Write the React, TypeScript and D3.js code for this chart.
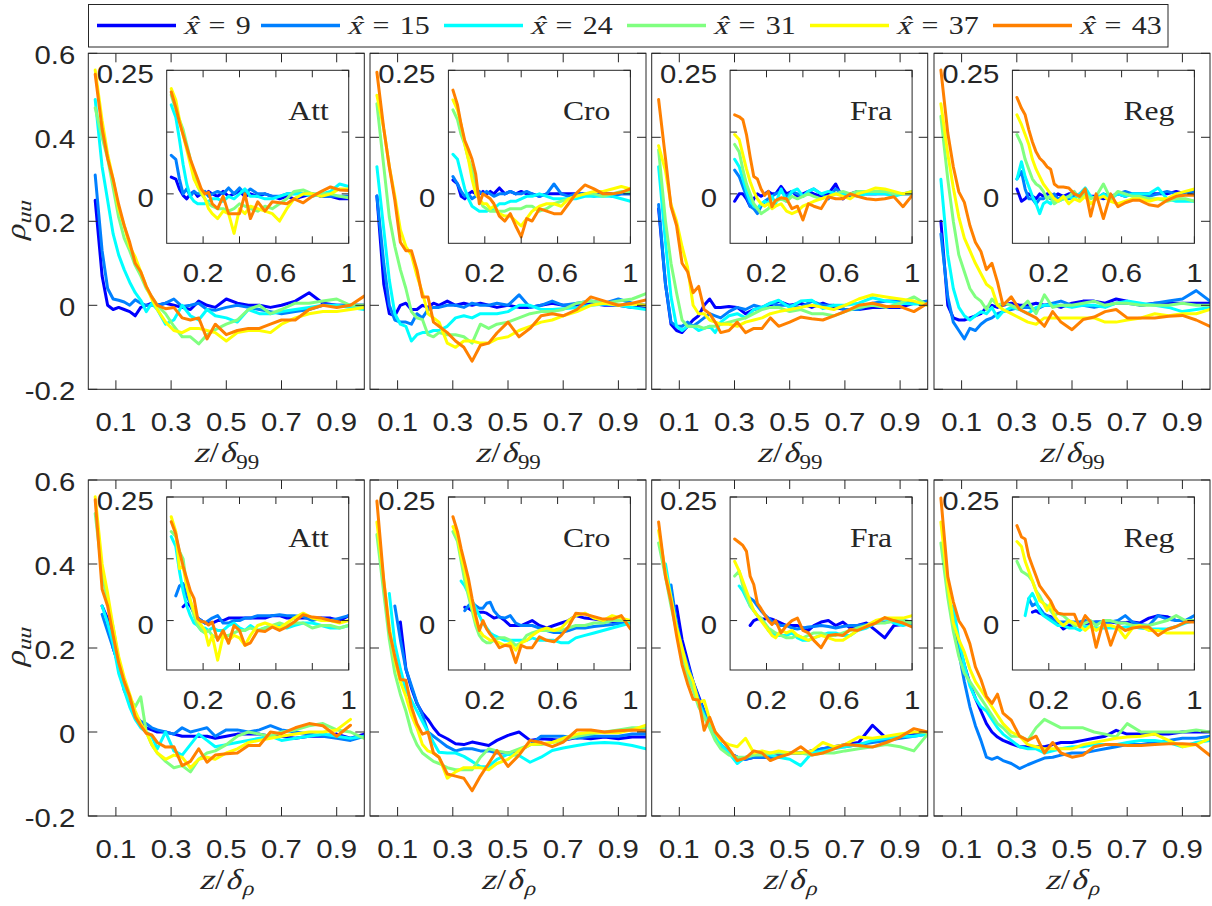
import React from "react";
import * as d3 from "d3";

// Wall-normal sampling positions (z/delta) shared by every profile
const zGrid = [0.025, 0.05, 0.07, 0.09, 0.11, 0.13, 0.15, 0.17, 0.19, 0.21, 0.23, 0.25, 0.28, 0.31, 0.34, 0.37, 0.4, 0.43, 0.46, 0.5, 0.54, 0.58, 0.62, 0.66, 0.7, 0.75, 0.8, 0.85, 0.9, 0.95, 1.0];

const stationLabels = ["9", "15", "24", "31", "37", "43"];
const seriesColors = ["#0000ff", "#0080ff", "#00ffff", "#80ff80", "#ffff00", "#ff8000"];
const caseNames = ["Att", "Cro", "Fra", "Reg"];

const mainXTicks = [0.1, 0.3, 0.5, 0.7, 0.9];
const mainXTickLabels = ["0.1", "0.3", "0.5", "0.7", "0.9"];
const mainYTicks = [-0.2, 0, 0.2, 0.4, 0.6];
const mainYTickLabels = ["-0.2", "0", "0.2", "0.4", "0.6"];
const insetXTicks = [0.2, 0.4, 0.6, 0.8, 1.0];
const insetXTickLabels = ["0.2", "", "0.6", "", "1"];
const insetYTicks = [0, 0.125, 0.25];
const insetYTickLabels = ["0", "", "0.25"];

// ---- rho_uu against z/delta_99 (series order: x̂ = 9, 15, 24, 31, 37, 43) ----
const attD99 = [
  [0.25, 0.07, 0.0, -0.01, -0.005, -0.01, -0.015, -0.025, -0.005, 0.0, 0.005, 0.0, 0.005, 0.0, -0.005, -0.01, 0.01, 0.0, -0.005, 0.015, 0.005, 0.0, 0.0, -0.005, 0.0, 0.01, 0.03, 0.005, 0.0, 0.0, 0.0],
  [0.31, 0.13, 0.04, 0.015, 0.012, 0.008, 0.0, 0.013, 0.005, 0.0, 0.0, 0.0, 0.005, 0.015, -0.003, 0.0, 0.005, -0.01, -0.012, -0.005, 0.0, -0.005, -0.01, -0.015, -0.02, -0.015, -0.01, 0.0, 0.0, 0.0, 0.0],
  [0.49, 0.33, 0.25, 0.17, 0.12, 0.085, 0.055, 0.03, 0.012, -0.015, 0.005, -0.01, -0.045, -0.035, 0.0, -0.025, -0.035, -0.01, -0.025, -0.03, -0.04, -0.01, -0.02, -0.02, -0.015, -0.01, -0.005, 0.0, 0.0, -0.005, -0.01],
  [0.47, 0.4, 0.35, 0.28, 0.21, 0.16, 0.13, 0.095, 0.07, 0.04, 0.02, 0.0, -0.02, -0.05, -0.075, -0.075, -0.092, -0.07, -0.058, -0.045, -0.035, -0.01, 0.0, -0.02, -0.01, 0.005, 0.005, 0.01, 0.015, 0.0, 0.0],
  [0.56, 0.44, 0.36, 0.3, 0.23, 0.19, 0.14, 0.115, 0.08, 0.045, 0.015, -0.01, -0.04, -0.06, -0.065, -0.055, -0.055, -0.06, -0.065, -0.085, -0.065, -0.06, -0.06, -0.065, -0.045, -0.03, -0.02, -0.015, -0.015, -0.01, -0.005],
  [0.55, 0.42, 0.35, 0.3, 0.24, 0.19, 0.15, 0.1, 0.08, 0.045, 0.02, 0.0, -0.008, -0.005, -0.03, -0.035, -0.03, -0.08, -0.045, -0.07, -0.06, -0.055, -0.055, -0.045, -0.035, -0.035, -0.01, 0.0, -0.005, 0.0, 0.022],
];
const croD99 = [
  [0.26, 0.05, -0.02, -0.025, 0.0, 0.005, -0.01, -0.01, 0.0, -0.005, 0.005, 0.0, 0.01, 0.0, 0.005, 0.0, 0.005, 0.0, -0.005, 0.0, -0.005, -0.005, 0.0, 0.005, 0.0, 0.0, 0.005, 0.0, 0.0, -0.005, -0.005],
  [0.26, 0.1, 0.0, -0.035, -0.04, -0.04, -0.045, -0.02, -0.03, -0.01, -0.005, -0.005, 0.0, 0.0, -0.005, 0.005, 0.0, 0.0, 0.005, 0.0, 0.025, -0.005, 0.0, 0.01, 0.0, 0.005, 0.01, 0.005, 0.015, 0.005, 0.0],
  [0.33, 0.18, 0.06, -0.02, -0.045, -0.05, -0.085, -0.07, -0.065, -0.065, -0.06, -0.06, -0.05, -0.03, -0.025, -0.03, -0.02, -0.02, -0.02, -0.015, 0.0, 0.0, -0.01, -0.01, -0.008, -0.005, 0.0, 0.003, 0.0, -0.005, -0.01],
  [0.48, 0.33, 0.21, 0.14, 0.085, 0.04, -0.015, -0.03, -0.034, -0.07, -0.075, -0.065, -0.07, -0.07, -0.075, -0.09, -0.045, -0.055, -0.045, -0.04, -0.03, -0.02, -0.015, -0.015, -0.01, 0.005, 0.01, 0.005, 0.01, 0.015, 0.028],
  [0.5, 0.42, 0.33, 0.26, 0.18, 0.14, 0.12, 0.07, 0.03, -0.02, -0.03, -0.04, -0.09, -0.1, -0.085, -0.085, -0.09, -0.09, -0.08, -0.075, -0.06, -0.05, -0.04, -0.035, -0.025, -0.015, 0.0, 0.005, 0.0, 0.003, 0.0],
  [0.555, 0.42, 0.33, 0.25, 0.15, 0.13, 0.13, 0.085, 0.02, 0.02, -0.04, -0.05, -0.065, -0.085, -0.1, -0.133, -0.095, -0.09, -0.066, -0.04, -0.075, -0.055, -0.025, -0.02, -0.025, -0.01, 0.02, 0.01, 0.0, 0.005, 0.013],
];
const fraD99 = [
  [0.23, 0.05, -0.045, -0.06, -0.065, -0.05, -0.035, -0.025, 0.0, 0.015, -0.005, -0.005, -0.003, -0.005, -0.02, -0.01, -0.005, 0.0, 0.01, 0.0, 0.005, -0.005, 0.005, -0.005, -0.01, -0.01, -0.005, -0.005, -0.005, 0.005, 0.005],
  [0.24, 0.05, -0.04, -0.05, -0.05, -0.04, -0.05, -0.04, -0.03, -0.02, -0.025, -0.03, -0.015, -0.005, -0.01, 0.0, -0.005, 0.005, 0.0, 0.0, -0.005, 0.01, 0.0, 0.0, -0.01, -0.01, 0.005, 0.01, 0.01, 0.005, 0.01],
  [0.33, 0.15, 0.02, -0.05, -0.06, -0.05, -0.05, -0.06, -0.055, -0.05, -0.065, -0.04, -0.025, -0.02, -0.03, -0.01, -0.005, 0.005, 0.012, -0.005, 0.01, 0.012, -0.008, 0.0, 0.0, 0.005, 0.018, 0.01, 0.005, 0.003, 0.003],
  [0.37, 0.2, 0.1, 0.03, -0.035, -0.05, -0.05, -0.05, -0.055, -0.05, -0.05, -0.045, -0.04, -0.035, -0.03, -0.02, -0.01, -0.005, -0.005, -0.015, -0.01, -0.02, -0.02, -0.025, -0.015, -0.005, 0.0, -0.005, 0.005, 0.02, 0.0],
  [0.38, 0.32, 0.24, 0.2, 0.14, 0.09, 0.0, -0.02, -0.02, -0.035, -0.04, -0.045, -0.045, -0.05, -0.04, -0.035, -0.03, -0.02, -0.015, -0.01, -0.005, 0.0, -0.005, -0.01, 0.0, 0.015, 0.025, 0.02, 0.015, 0.01, 0.0],
  [0.49, 0.35, 0.235, 0.19, 0.1, 0.08, 0.03, 0.045, -0.01, -0.02, -0.04, -0.065, -0.06, -0.04, -0.065, -0.055, -0.055, -0.03, -0.05, -0.04, -0.028, -0.032, -0.035, -0.025, -0.015, 0.0, 0.005, -0.003, -0.003, -0.015, 0.005],
];
const regD99 = [
  [0.2, 0.0, -0.03, -0.035, -0.035, -0.03, -0.025, -0.02, -0.005, 0.0, -0.005, 0.0, 0.005, 0.0, 0.0, 0.005, 0.0, 0.0, -0.005, 0.005, 0.01, 0.01, 0.005, 0.015, 0.01, 0.0, 0.005, 0.005, 0.005, 0.005, 0.005],
  [0.17, 0.02, -0.04, -0.06, -0.08, -0.055, -0.06, -0.045, -0.035, -0.03, -0.02, -0.015, -0.01, -0.005, -0.005, -0.01, 0.0, 0.005, 0.01, 0.0, 0.0, -0.005, 0.0, 0.005, 0.005, 0.0, 0.005, 0.01, 0.015, 0.035, 0.01],
  [0.3, 0.12, 0.04, -0.005, -0.025, -0.035, -0.025, -0.015, -0.02, -0.005, -0.03, -0.015, -0.005, -0.01, -0.02, -0.005, 0.0, 0.0, 0.0, -0.005, 0.0, 0.0, -0.005, 0.005, 0.01, 0.005, 0.0, -0.005, -0.015, -0.01, -0.005],
  [0.45, 0.3, 0.2, 0.12, 0.08, 0.04, 0.02, 0.01, -0.01, 0.015, 0.0, 0.005, 0.0, -0.01, 0.01, -0.02, 0.025, -0.005, 0.0, 0.0, 0.005, 0.01, 0.0, 0.005, 0.005, 0.0, 0.0, 0.0, 0.005, 0.0, 0.0],
  [0.48, 0.36, 0.28, 0.21, 0.16, 0.13, 0.1, 0.075, 0.05, 0.04, 0.0, -0.01, -0.02, -0.03, -0.04, -0.045, -0.03, -0.03, -0.03, -0.03, -0.03, -0.03, -0.04, -0.04, -0.035, -0.03, -0.02, -0.025, -0.02, -0.02, -0.01],
  [0.56, 0.41, 0.33, 0.27, 0.245, 0.19, 0.15, 0.128, 0.085, 0.1, 0.055, 0.0, 0.02, -0.01, -0.02, -0.03, -0.05, -0.015, -0.04, -0.058, -0.034, -0.028, -0.015, -0.01, -0.03, -0.03, -0.03, -0.026, -0.024, -0.035, -0.05],
];

// ---- inset profiles, z/delta_99 row ----
const attD99In = [
  [0.034, 0.03, 0.01, -0.003, -0.01, 0.0, 0.005, -0.005, 0.0, 0.0, 0.005, 0.0, -0.005, 0.005, -0.005, 0.0, 0.005, -0.005, 0.0, -0.005, 0.0, -0.005, -0.01, -0.005, -0.01, -0.005, 0.0, -0.005, -0.005, -0.01, -0.01],
  [0.078, 0.07, 0.03, 0.0, 0.01, -0.005, 0.005, 0.0, 0.0, 0.005, -0.005, 0.0, 0.005, 0.0, 0.012, 0.0, 0.012, 0.0, 0.01, 0.0, 0.0, -0.005, -0.005, 0.0, 0.0, 0.0, 0.0, -0.005, -0.005, -0.005, -0.005],
  [0.18, 0.155, 0.11, 0.06, 0.02, -0.005, -0.015, -0.02, -0.02, -0.02, -0.015, -0.01, -0.01, -0.015, -0.005, -0.01, 0.0, 0.01, -0.005, -0.005, -0.01, -0.01, -0.005, 0.0, 0.0, 0.0, -0.005, 0.0, 0.005, 0.02, 0.015],
  [0.2, 0.17, 0.15, 0.13, 0.1, 0.07, 0.04, 0.015, 0.0, -0.01, -0.02, -0.025, -0.03, -0.03, -0.035, -0.03, -0.02, -0.025, -0.03, -0.035, -0.025, -0.03, -0.02, -0.01, 0.005, 0.008, 0.0, 0.0, 0.0, -0.005, -0.008],
  [0.213, 0.19, 0.15, 0.12, 0.09, 0.06, 0.03, 0.015, 0.005, -0.01, -0.03, -0.04, -0.05, -0.035, -0.04, -0.08, -0.03, -0.04, -0.025, -0.03, -0.035, -0.04, -0.055, -0.03, -0.01, 0.0, 0.0, -0.005, 0.0, 0.01, 0.01],
  [0.206, 0.175, 0.145, 0.12, 0.095, 0.07, 0.05, 0.03, 0.01, 0.0, 0.003, -0.02, -0.03, -0.005, -0.04, -0.04, -0.04, 0.0, -0.05, -0.016, -0.035, -0.016, -0.018, -0.02, -0.01, -0.018, -0.005, 0.005, 0.014, 0.008, 0.007],
];
const croD99In = [
  [0.028, 0.02, -0.005, -0.01, 0.0, 0.005, 0.0, 0.0, 0.005, 0.0, 0.005, 0.0, 0.012, 0.0, 0.005, 0.0, 0.005, 0.0, 0.0, -0.005, 0.0, 0.0, 0.0, 0.0, 0.0, 0.0, 0.0, 0.0, 0.0, 0.0, 0.0],
  [0.035, 0.02, 0.005, -0.005, 0.0, -0.01, -0.005, 0.005, 0.0, 0.005, 0.0, -0.005, 0.0, 0.0, 0.005, 0.0, 0.0, 0.005, 0.0, -0.005, 0.0, 0.02, 0.0, -0.005, 0.0, 0.0, -0.005, 0.0, -0.005, 0.0, 0.0],
  [0.08, 0.07, 0.04, 0.01, -0.01, -0.025, -0.03, -0.035, -0.035, -0.035, -0.03, -0.03, -0.02, -0.02, -0.015, -0.015, -0.01, -0.005, -0.005, 0.0, -0.005, -0.01, -0.01, -0.01, -0.01, -0.005, -0.005, -0.005, -0.005, -0.01, -0.015],
  [0.17, 0.15, 0.12, 0.1, 0.07, 0.05, 0.02, -0.01, -0.025, -0.03, -0.035, -0.035, -0.035, -0.035, -0.03, -0.03, -0.03, -0.025, -0.025, -0.035, -0.03, -0.02, -0.015, -0.01, -0.005, 0.0, 0.0, -0.005, 0.0, 0.005, 0.005],
  [0.19, 0.17, 0.14, 0.1, 0.07, 0.03, 0.0, -0.01, -0.02, -0.02, -0.03, -0.025, -0.04, -0.045, -0.045, -0.055, -0.065, -0.05, -0.035, -0.025, -0.02, -0.02, -0.025, -0.01, -0.005, 0.0, 0.005, 0.005, 0.01, 0.015, 0.01],
  [0.21, 0.18, 0.14, 0.108, 0.09, 0.07, 0.04, -0.02, 0.0, -0.005, -0.01, -0.02, -0.045, -0.055, -0.04, -0.065, -0.087, -0.05, -0.055, -0.03, -0.035, -0.04, -0.04, -0.02, 0.0, 0.018, 0.01, 0.0, 0.0, 0.003, 0.01],
];
const fraD99In = [
  [-0.015, 0.0, 0.0, -0.01, -0.025, -0.01, 0.0, -0.005, 0.0, 0.005, 0.0, 0.0, 0.015, 0.0, 0.005, -0.005, 0.0, 0.005, 0.0, -0.005, 0.0, 0.02, -0.01, 0.0, 0.005, 0.0, 0.0, 0.0, 0.0, 0.0, 0.0],
  [0.048, 0.035, 0.015, -0.005, -0.025, -0.03, -0.04, -0.025, -0.015, -0.01, -0.005, 0.0, 0.005, -0.005, 0.005, 0.0, -0.005, 0.005, 0.01, 0.0, -0.01, 0.01, 0.0, -0.005, 0.0, 0.0, 0.0, 0.005, 0.0, 0.0, 0.0],
  [0.07, 0.055, 0.03, 0.005, -0.015, -0.025, -0.03, -0.02, -0.015, -0.02, -0.005, -0.02, 0.01, -0.015, 0.005, 0.01, -0.005, 0.005, 0.01, 0.0, 0.005, 0.0, 0.0, 0.0, -0.005, 0.0, 0.0, 0.0, -0.005, 0.0, 0.005],
  [0.1, 0.085, 0.05, 0.02, 0.0, -0.02, -0.03, -0.04, -0.035, -0.03, -0.02, -0.015, -0.01, -0.015, -0.005, -0.01, -0.005, 0.0, -0.005, -0.01, -0.005, 0.0, 0.005, 0.0, 0.005, 0.005, 0.005, 0.005, 0.0, 0.0, 0.0],
  [0.12, 0.11, 0.08, 0.05, 0.025, 0.005, -0.01, -0.02, -0.025, -0.02, -0.03, -0.025, -0.02, -0.035, -0.04, -0.035, -0.025, -0.02, -0.015, -0.01, -0.005, 0.0, -0.005, -0.01, 0.0, 0.005, 0.012, 0.01, 0.005, 0.0, 0.005],
  [0.16, 0.156, 0.15, 0.12, 0.075, 0.035, 0.03, 0.01, -0.003, 0.005, -0.026, -0.013, -0.008, -0.01, -0.03, -0.025, -0.053, -0.02, -0.025, -0.03, -0.006, -0.01, -0.01, 0.0, -0.005, -0.01, -0.012, -0.01, -0.006, -0.026, -0.003],
];
const regD99In = [
  [0.01, -0.015, -0.01, 0.0, -0.005, -0.01, 0.0, -0.005, 0.0, 0.0, -0.005, 0.0, -0.005, 0.0, 0.0, -0.005, 0.0, -0.005, -0.005, -0.01, -0.005, 0.0, -0.005, 0.0, 0.0, 0.0, 0.0, 0.0, 0.005, 0.0, 0.005],
  [0.03, 0.045, 0.01, -0.01, -0.01, -0.02, -0.01, -0.01, -0.005, -0.01, 0.0, -0.01, -0.005, -0.01, -0.005, 0.0, 0.0, -0.005, -0.01, 0.0, -0.005, 0.0, 0.005, 0.0, 0.0, -0.005, 0.0, 0.005, 0.0, 0.0, 0.005],
  [0.03, 0.065, 0.035, 0.015, -0.005, -0.02, -0.04, -0.02, -0.015, -0.02, -0.01, -0.015, -0.01, -0.005, -0.01, 0.0, 0.012, -0.005, -0.01, 0.0, -0.01, 0.0, -0.005, 0.0, 0.0, 0.0, 0.012, -0.01, -0.015, -0.015, -0.015],
  [0.12, 0.1, 0.07, 0.05, 0.03, 0.02, 0.015, 0.005, -0.01, -0.005, -0.02, -0.015, -0.01, -0.005, 0.005, -0.01, 0.0, -0.01, -0.005, 0.02, -0.01, 0.005, 0.0, -0.005, -0.005, -0.01, -0.01, -0.015, -0.01, -0.01, -0.015],
  [0.16, 0.14, 0.12, 0.1, 0.07, 0.05, 0.035, 0.02, 0.01, 0.0, -0.01, -0.015, -0.005, -0.02, -0.01, -0.015, -0.005, -0.02, -0.01, -0.005, -0.015, -0.02, -0.015, -0.01, -0.01, -0.015, -0.01, -0.01, 0.0, 0.005, 0.01],
  [0.195, 0.173, 0.16, 0.13, 0.105, 0.085, 0.072, 0.065, 0.055, 0.05, 0.02, 0.014, 0.014, 0.012, 0.0, -0.005, 0.01, -0.045, 0.0, -0.05, 0.0, -0.026, -0.018, -0.013, -0.013, -0.022, -0.025, -0.013, -0.005, -0.003, -0.003],
];

// ---- rho_uu against z/delta_rho ----
const attDr = [
  [null, 0.3, 0.27, 0.2, 0.16, 0.1, 0.07, 0.035, 0.02, 0.01, 0.005, 0.0, 0.0, -0.005, -0.01, -0.01, -0.01, -0.01, -0.015, -0.01, -0.005, -0.005, -0.005, -0.01, -0.01, -0.015, -0.01, -0.01, -0.005, -0.015, -0.005],
  [null, 0.28, 0.24, 0.2, 0.16, 0.11, 0.07, 0.04, 0.025, 0.02, 0.01, 0.005, 0.0, -0.005, 0.01, 0.0, 0.005, 0.01, -0.01, 0.005, 0.005, 0.0, 0.005, 0.015, 0.005, 0.0, -0.005, -0.01, -0.015, -0.02, -0.01],
  [null, 0.3, 0.26, 0.21, 0.14, 0.1, 0.06, 0.03, 0.01, 0.0, -0.01, -0.04, 0.0, -0.045, -0.055, -0.03, -0.005, -0.02, -0.035, -0.03, -0.025, -0.02, -0.015, -0.01, -0.02, -0.015, -0.01, -0.005, -0.01, -0.015, -0.01],
  [0.52, 0.38, 0.31, 0.25, 0.17, 0.12, 0.08, 0.06, 0.084, 0.0, -0.03, -0.05, -0.07, -0.085, -0.08, -0.095, -0.065, -0.05, -0.045, -0.03, -0.01, 0.0, -0.005, -0.01, 0.0, 0.005, 0.015, 0.02, 0.005, 0.0, -0.015],
  [0.56, 0.4, 0.33, 0.25, 0.18, 0.13, 0.09, 0.05, 0.02, 0.0, -0.03, -0.05, -0.065, -0.055, -0.06, -0.085, -0.065, -0.06, -0.065, -0.05, -0.04, -0.025, -0.02, -0.015, -0.01, -0.005, 0.0, 0.0, 0.005, 0.03, null],
  [0.553, 0.34, 0.3, 0.23, 0.165, 0.12, 0.085, 0.036, 0.015, -0.003, -0.007, -0.025, -0.036, -0.035, -0.08, -0.07, -0.04, -0.072, -0.055, -0.052, -0.05, -0.032, -0.032, 0.0, -0.004, 0.01, 0.02, 0.015, -0.01, 0.016, null],
];
const croDr = [
  [null, null, null, null, 0.262, 0.15, 0.105, 0.068, 0.045, 0.03, 0.01, -0.006, -0.016, -0.028, -0.03, -0.024, -0.028, -0.032, -0.02, -0.008, 0.0, -0.02, -0.016, -0.018, -0.02, -0.013, -0.016, -0.012, -0.016, -0.012, -0.012],
  [null, null, null, 0.3, 0.22, 0.15, 0.11, 0.07, 0.04, 0.0, -0.01, -0.02, -0.035, -0.045, -0.04, -0.04, -0.045, -0.045, -0.05, -0.05, -0.045, -0.03, -0.01, -0.01, -0.01, -0.015, -0.01, -0.01, -0.01, -0.005, -0.005],
  [null, null, 0.33, 0.21, 0.15, 0.1, 0.075, 0.05, 0.025, 0.0, -0.025, -0.048, -0.05, -0.05, -0.058, -0.07, -0.083, -0.082, -0.065, -0.053, -0.056, -0.072, -0.06, -0.044, -0.038, -0.032, -0.027, -0.025, -0.027, -0.032, -0.04],
  [0.47, 0.33, 0.22, 0.14, 0.09, 0.05, 0.0, -0.03, -0.05, -0.06, -0.07, -0.075, -0.085, -0.09, -0.09, -0.09, -0.06, -0.04, -0.045, -0.05, -0.04, -0.03, -0.03, -0.025, -0.02, -0.01, -0.005, 0.0, 0.005, 0.01, 0.01],
  [0.5, 0.36, 0.25, 0.17, 0.12, 0.085, 0.04, 0.01, -0.03, -0.045, -0.05, -0.06, -0.11, -0.095, -0.085, -0.085, -0.085, -0.09, -0.075, -0.065, -0.045, -0.03, -0.028, -0.025, -0.015, -0.005, 0.0, -0.002, -0.002, 0.005, 0.016],
  [0.55, 0.36, 0.24, 0.18, 0.125, 0.123, 0.06, 0.02, -0.005, 0.0, -0.05, -0.06, -0.1, -0.105, -0.11, -0.14, -0.105, -0.075, -0.044, -0.082, -0.055, -0.02, -0.025, -0.035, -0.024, 0.005, 0.005, 0.0, 0.003, 0.005, 0.003],
];
const fraDr = [
  [null, null, null, 0.3, 0.22, 0.17, 0.12, 0.085, 0.05, 0.02, -0.005, -0.03, -0.05, -0.06, -0.065, -0.06, -0.06, -0.06, -0.055, -0.05, -0.05, -0.045, -0.04, -0.035, -0.03, -0.025, 0.016, -0.015, -0.01, -0.005, -0.005],
  [null, null, 0.35, 0.26, 0.2, 0.16, 0.12, 0.08, 0.05, 0.02, 0.0, -0.03, -0.05, -0.06, -0.065, -0.06, -0.06, -0.06, -0.06, -0.05, -0.05, -0.045, -0.04, -0.035, -0.035, -0.03, -0.025, -0.02, -0.015, -0.01, -0.005],
  [null, 0.4, 0.32, 0.25, 0.19, 0.14, 0.11, 0.07, 0.04, 0.015, -0.01, -0.03, -0.05, -0.075, -0.06, -0.055, -0.05, -0.055, -0.06, -0.065, -0.08, -0.05, -0.045, -0.04, -0.035, -0.03, -0.02, -0.015, -0.01, -0.01, -0.005],
  [0.45, 0.37, 0.3, 0.24, 0.18, 0.13, 0.1, 0.06, 0.035, 0.01, -0.02, -0.04, -0.055, -0.06, -0.06, -0.055, -0.055, -0.05, -0.05, -0.05, -0.05, -0.055, -0.05, -0.05, -0.045, -0.04, -0.035, -0.03, -0.035, -0.045, -0.005],
  [0.48, 0.38, 0.32, 0.25, 0.2, 0.15, 0.12, 0.07, 0.075, 0.03, 0.0, -0.02, -0.03, -0.035, -0.015, -0.05, -0.045, -0.05, -0.045, -0.05, -0.05, -0.045, -0.025, -0.035, -0.03, -0.012, -0.015, -0.01, -0.005, 0.0, 0.0],
  [0.5, 0.37, 0.31, 0.23, 0.16, 0.115, 0.078, 0.076, 0.004, 0.035, 0.0, -0.015, -0.04, -0.068, -0.062, -0.045, -0.05, -0.068, -0.06, -0.052, -0.035, -0.055, -0.05, -0.04, -0.03, -0.032, -0.036, -0.025, -0.012, 0.008, 0.0],
];
const regDr = [
  [null, null, 0.28, 0.21, 0.16, 0.115, 0.08, 0.05, 0.02, 0.0, -0.012, -0.02, -0.028, -0.035, -0.035, -0.035, -0.035, -0.03, -0.025, -0.025, -0.02, -0.015, -0.01, 0.004, -0.005, -0.005, -0.005, -0.005, 0.0, 0.0, 0.0],
  [null, null, 0.28, 0.19, 0.12, 0.06, 0.015, -0.02, -0.06, -0.065, -0.06, -0.068, -0.075, -0.087, -0.078, -0.07, -0.062, -0.06, -0.055, -0.05, -0.05, -0.045, -0.04, -0.035, -0.03, -0.03, -0.025, -0.02, -0.015, -0.015, -0.01],
  [null, null, 0.3, 0.22, 0.16, 0.11, 0.08, 0.06, 0.05, 0.03, 0.01, -0.005, -0.02, -0.035, -0.04, -0.04, -0.05, -0.045, -0.04, -0.035, -0.035, -0.03, -0.03, -0.03, -0.025, -0.02, -0.02, -0.025, -0.035, -0.025, -0.02],
  [0.45, 0.32, 0.24, 0.18, 0.14, 0.12, 0.1, 0.08, 0.06, 0.04, 0.02, 0.01, -0.01, -0.01, -0.02, 0.01, 0.03, 0.02, 0.01, 0.01, 0.01, 0.0, -0.005, -0.012, 0.02, 0.0, 0.0, 0.0, 0.0, 0.005, 0.0],
  [0.5, 0.35, 0.26, 0.22, 0.19, 0.15, 0.12, 0.1, 0.08, 0.06, 0.04, 0.02, 0.0, -0.01, -0.03, -0.035, -0.04, -0.04, -0.04, -0.04, -0.03, -0.025, -0.02, -0.015, -0.012, -0.01, -0.005, -0.02, -0.035, -0.03, -0.015],
  [0.557, 0.37, 0.31, 0.265, 0.245, 0.21, 0.155, 0.125, 0.085, 0.068, 0.09, 0.045, 0.028, -0.01, -0.02, -0.01, -0.05, -0.025, -0.05, -0.06, -0.055, -0.035, -0.03, -0.03, -0.032, -0.032, -0.03, -0.028, -0.028, -0.03, -0.056],
];

// ---- inset profiles, z/delta_rho row ----
const attDrIn = [
  [null, null, null, 0.028, 0.035, 0.03, 0.015, 0.005, 0.0, -0.005, -0.005, -0.005, 0.0, 0.0, 0.005, 0.005, 0.005, 0.005, 0.005, 0.005, 0.005, 0.01, 0.01, 0.005, 0.005, 0.005, 0.005, 0.005, 0.005, 0.0, 0.01],
  [null, 0.05, 0.07, 0.075, 0.05, 0.035, 0.02, 0.005, 0.0, -0.005, 0.0, 0.005, 0.01, -0.005, -0.005, 0.0, 0.0, 0.005, 0.005, 0.01, 0.01, 0.01, 0.012, 0.01, 0.01, 0.008, 0.0, 0.005, 0.0, 0.005, 0.01],
  [0.17, 0.15, 0.1, 0.06, 0.03, 0.01, -0.005, -0.01, -0.02, -0.015, -0.02, -0.015, -0.02, -0.02, -0.01, -0.005, -0.015, -0.02, -0.01, -0.02, -0.015, -0.01, -0.01, -0.015, -0.01, -0.005, -0.005, -0.01, -0.015, -0.015, -0.01],
  [0.18, 0.17, 0.14, 0.125, 0.07, 0.04, 0.01, -0.01, -0.02, -0.025, -0.02, -0.03, -0.035, -0.03, -0.03, -0.025, -0.02, -0.02, -0.015, -0.02, -0.015, -0.01, -0.005, -0.01, -0.005, -0.005, -0.015, -0.01, -0.01, -0.015, -0.01],
  [0.21, 0.18, 0.105, 0.11, 0.07, 0.04, 0.02, 0.0, -0.01, -0.02, -0.05, -0.03, -0.08, -0.03, -0.04, -0.03, -0.035, -0.05, -0.03, -0.01, -0.005, -0.01, -0.015, -0.005, 0.005, 0.015, 0.005, 0.0, 0.0, -0.005, 0.0],
  [0.2, 0.175, 0.14, 0.11, 0.085, 0.06, 0.045, 0.004, -0.002, -0.003, -0.009, -0.003, -0.04, -0.02, -0.046, -0.01, -0.02, -0.05, -0.045, -0.02, -0.022, -0.013, -0.02, -0.013, -0.003, 0.012, 0.007, 0.005, 0.0, -0.003, null],
];
const croDrIn = [
  [null, null, null, 0.027, 0.025, 0.02, 0.017, 0.017, 0.017, 0.015, 0.01, 0.005, 0.008, 0.0, -0.01, -0.01, -0.01, -0.005, 0.0, -0.01, -0.015, -0.01, -0.005, 0.0, 0.01, 0.005, 0.003, 0.0, -0.003, -0.003, -0.003],
  [null, null, null, 0.02, 0.03, 0.037, 0.03, 0.025, 0.025, 0.035, 0.037, 0.02, 0.007, 0.005, 0.01, -0.005, -0.01, -0.01, -0.01, -0.015, -0.02, -0.024, -0.024, -0.02, -0.015, -0.015, -0.012, -0.01, -0.008, -0.005, -0.003],
  [null, null, 0.08, 0.07, 0.055, 0.04, 0.025, 0.01, -0.005, -0.015, -0.025, -0.03, -0.035, -0.04, -0.04, -0.04, -0.04, -0.04, -0.035, -0.04, -0.04, -0.04, -0.045, -0.045, -0.035, -0.03, -0.025, -0.02, -0.015, -0.01, -0.005],
  [0.18, 0.16, 0.12, 0.08, 0.05, 0.02, -0.01, -0.03, -0.04, -0.045, -0.045, -0.04, -0.035, -0.035, -0.04, -0.05, -0.045, -0.03, -0.025, -0.02, -0.02, -0.02, -0.02, -0.015, -0.01, -0.01, -0.005, -0.005, 0.0, 0.0, 0.0],
  [0.19, 0.17, 0.13, 0.1, 0.06, 0.03, 0.0, -0.02, -0.03, -0.035, -0.04, -0.04, -0.045, -0.05, -0.045, -0.06, -0.045, -0.04, -0.03, -0.02, -0.015, -0.02, -0.015, 0.0, 0.01, 0.015, 0.005, 0.0, 0.01, 0.005, 0.0],
  [0.21, 0.18, 0.145, 0.115, 0.085, 0.045, 0.01, -0.02, 0.0, -0.017, -0.028, -0.037, -0.055, -0.05, -0.052, -0.085, -0.05, -0.055, -0.055, -0.033, -0.04, -0.043, -0.03, -0.012, 0.015, 0.013, 0.008, 0.003, 0.003, 0.01, -0.017],
];
const fraDrIn = [
  [null, null, null, null, -0.01, 0.0, 0.003, 0.003, 0.003, 0.005, 0.003, 0.0, -0.005, -0.01, -0.01, -0.01, -0.015, -0.02, -0.01, -0.003, 0.0, -0.01, -0.003, -0.015, -0.01, -0.005, -0.02, -0.035, -0.01, -0.008, -0.007],
  [null, null, null, 0.05, 0.045, 0.04, 0.03, 0.02, 0.012, 0.005, -0.002, -0.005, -0.01, -0.01, -0.015, -0.017, -0.015, -0.013, -0.012, -0.01, -0.012, -0.015, -0.012, -0.01, -0.01, -0.008, -0.005, -0.003, -0.002, 0.0, -0.003],
  [null, 0.07, 0.06, 0.045, 0.03, 0.02, 0.01, 0.0, -0.005, -0.02, -0.025, -0.03, -0.03, -0.03, -0.025, -0.035, -0.04, -0.04, -0.035, -0.03, -0.025, -0.025, -0.03, -0.03, -0.02, -0.015, -0.005, 0.005, -0.005, -0.01, -0.005],
  [0.09, 0.1, 0.07, 0.05, 0.03, 0.02, 0.01, 0.005, -0.005, -0.015, -0.02, -0.025, -0.03, -0.035, -0.035, -0.03, -0.035, -0.03, -0.025, -0.025, -0.03, -0.03, -0.025, -0.02, -0.015, -0.01, -0.005, -0.005, 0.0, 0.0, -0.005],
  [0.12, 0.1, 0.08, 0.06, 0.04, 0.02, 0.01, 0.0, -0.01, -0.02, -0.03, -0.035, -0.02, -0.025, -0.02, -0.03, -0.035, -0.04, -0.035, -0.03, -0.035, -0.04, -0.04, -0.03, -0.02, -0.01, 0.0, 0.005, 0.005, 0.005, 0.01],
  [0.165, 0.158, 0.152, 0.14, 0.09, 0.073, 0.035, 0.024, 0.012, 0.0, -0.008, 0.0, -0.025, -0.01, 0.0, 0.005, -0.02, -0.025, -0.04, -0.055, -0.03, -0.028, -0.03, -0.018, -0.02, -0.012, -0.005, 0.006, 0.0, -0.005, -0.013],
];
const regDrIn = [
  [null, null, null, null, 0.017, 0.02, 0.015, 0.012, 0.01, 0.008, 0.0, -0.005, -0.017, -0.01, -0.01, -0.008, -0.006, -0.005, -0.003, -0.003, -0.003, -0.005, -0.004, -0.003, -0.005, 0.005, 0.01, 0.008, 0.0, 0.0, 0.0],
  [null, null, null, 0.044, 0.03, 0.035, 0.025, 0.015, 0.01, 0.005, 0.0, -0.003, -0.003, -0.003, -0.003, -0.003, 0.0, -0.003, -0.003, -0.003, -0.003, 0.0, 0.01, -0.003, -0.008, -0.01, 0.01, 0.003, 0.0, 0.0, 0.01],
  [null, null, 0.01, 0.045, 0.055, 0.04, 0.02, 0.01, 0.005, 0.0, -0.005, -0.01, -0.01, -0.015, -0.015, -0.02, -0.012, -0.012, -0.015, -0.015, -0.015, -0.015, -0.013, -0.012, -0.015, -0.017, -0.017, -0.017, -0.012, -0.005, 0.0],
  [0.12, 0.1, 0.095, 0.09, 0.08, 0.06, 0.05, 0.035, 0.03, 0.02, 0.01, 0.015, 0.01, 0.0, -0.01, -0.01, -0.005, 0.0, -0.01, 0.0, 0.0, -0.005, -0.005, -0.01, -0.01, -0.01, -0.005, 0.0, 0.01, 0.0, 0.0],
  [0.16, 0.15, 0.12, 0.1, 0.08, 0.06, 0.04, 0.035, 0.02, 0.035, 0.01, 0.0, -0.01, 0.0, -0.005, -0.01, -0.02, -0.01, -0.02, -0.01, -0.01, -0.015, -0.035, -0.015, -0.01, -0.02, -0.02, -0.025, -0.025, -0.025, -0.025],
  [0.192, 0.169, 0.165, 0.13, 0.11, 0.09, 0.07, 0.06, 0.05, 0.04, 0.024, 0.015, 0.013, 0.013, 0.013, -0.013, 0.01, -0.003, -0.054, 0.0, -0.05, -0.01, -0.02, -0.015, -0.013, -0.013, -0.03, -0.018, -0.012, -0.003, -0.003],
];

const rows = [
  { sub: "99", subItalic: false, main: [attD99, croD99, fraD99, regD99], inset: [attD99In, croD99In, fraD99In, regD99In] },
  { sub: "ρ", subItalic: true, main: [attDr, croDr, fraDr, regDr], inset: [attDrIn, croDrIn, fraDrIn, regDrIn] },
];

// ---- layout ----
const W = 1212;
const H = 906;
const panelLefts = [88.3, 370, 651.7, 934];
const rowTops = [53.3, 480];
const PW = 276;
const PH = 336;
const INSET_DX = 78.4;
const INSET_DY = 17;
const IW = 182;
const IH = 173;
const TICK = 9;
const ITICK = 7;
const AX = "#262626";
const SX = 1.15; // horizontal glyph stretch
const SANS = "'Liberation Sans', Arial, Helvetica, sans-serif";
const SERIF = "'Liberation Serif', 'Times New Roman', serif";
const NUM_SIZE = 25.5;
const SLANT = -14; // oblique angle for math italics

type TxtProps = {
  x: number; y: number; anchor?: "start" | "middle" | "end"; size: number; family: string;
  children: React.ReactNode;
};
function Txt({ x, y, anchor = "middle", size, family, children }: TxtProps) {
  return (
    <text transform={`translate(${x},${y}) scale(${SX},1)`} textAnchor={anchor} fontSize={size}
      fontFamily={family} fill={AX}>
      {children}
    </text>
  );
}

// Advance widths (em) of the serif glyphs used in the math labels
const glyphW: Record<string, number> = {
  z: 0.444, "/": 0.278, "δ": 0.5, "ρ": 0.52, u: 0.5, x: 0.5, "\u0302": 0, "=": 0.564,
  "0": 0.5, "1": 0.5, "2": 0.5, "3": 0.5, "4": 0.5, "5": 0.5, "6": 0.5, "7": 0.5, "8": 0.5, "9": 0.5,
};
type Piece = { t: string; it?: boolean; sub?: boolean; gap?: number };

function MathText({ x, y, pieces, size, subSize, anchor = "middle", vertical }: {
  x: number; y: number; pieces: Piece[]; size: number; subSize: number;
  anchor?: "start" | "middle"; vertical?: boolean;
}) {
  const widths = pieces.map((p) => {
    const s = p.sub ? subSize : size;
    return (p.gap ?? 0) * size + [...p.t].reduce((a, c) => a + (glyphW[c] ?? 0.5) * s, 0);
  });
  const total = widths.reduce((a, b) => a + b, 0);
  let cx = anchor === "middle" ? -total / 2 : 0;
  // vertical labels read bottom-to-top; the stretch then runs along the text
  const tr = vertical
    ? `translate(${x},${y}) rotate(-90) scale(${SX},1)`
    : `translate(${x},${y}) scale(${SX},1)`;
  return (
    <g transform={tr}>
      {pieces.map((p, i) => {
        const px = cx + (p.gap ?? 0) * size;
        cx += widths[i];
        const py = p.sub ? size * 0.22 : 0;
        return (
          <text key={i} transform={`translate(${px},${py})${p.it ? ` skewX(${SLANT})` : ""}`}
            fontSize={p.sub ? subSize : size} fontFamily={SERIF} fill={AX}>
            {p.t}
          </text>
        );
      })}
    </g>
  );
}

type Pt = [number, number | null];

function seriesPath(vals: (number | null)[], sx: d3.ScaleLinear<number, number>, sy: d3.ScaleLinear<number, number>) {
  const pts: Pt[] = zGrid.map((z, i) => [z, vals[i] ?? null]);
  const gen = d3.line<Pt>()
    .defined((d) => d[1] !== null)
    .x((d) => sx(d[0]))
    .y((d) => sy(d[1] as number));
  return gen(pts) || "";
}

function Panel({ row, col }: { row: number; col: number }) {
  const left = panelLefts[col];
  const top = rowTops[row];
  const data = rows[row].main[col];
  const insetData = rows[row].inset[col];
  const x = d3.scaleLinear().domain([0, 1]).range([left, left + PW]);
  const y = d3.scaleLinear().domain([-0.2, 0.6]).range([top + PH, top]);
  const il = left + INSET_DX;
  const it = top + INSET_DY;
  const ix = d3.scaleLinear().domain([0, 1]).range([il, il + IW]);
  const iy = d3.scaleLinear().domain([-0.1, 0.25]).range([it + IH, it]);
  const clipMain = `clip-m-${row}-${col}`;
  const clipIn = `clip-i-${row}-${col}`;
  const r = rows[row];

  return (
    <g>
      <defs>
        <clipPath id={clipMain}><rect x={left} y={top} width={PW} height={PH} /></clipPath>
        <clipPath id={clipIn}><rect x={il} y={it} width={IW} height={IH} /></clipPath>
      </defs>
      <g clipPath={`url(#${clipMain})`}>
        {data.map((vals, i) => (
          <path key={i} d={seriesPath(vals, x, y)} fill="none" stroke={seriesColors[i]}
            strokeWidth={3} strokeLinejoin="round" strokeLinecap="round" />
        ))}
      </g>
      <rect x={left} y={top} width={PW} height={PH} fill="none" stroke={AX} strokeWidth={1} />
      {mainXTicks.map((t) => (
        <g key={`xt${t}`}>
          <line x1={x(t)} x2={x(t)} y1={top + PH} y2={top + PH - TICK} stroke={AX} strokeWidth={1} />
          <line x1={x(t)} x2={x(t)} y1={top} y2={top + TICK} stroke={AX} strokeWidth={1} />
        </g>
      ))}
      {mainYTicks.map((t) => (
        <g key={`yt${t}`}>
          <line x1={left} x2={left + TICK} y1={y(t)} y2={y(t)} stroke={AX} strokeWidth={1} />
          <line x1={left + PW} x2={left + PW - TICK} y1={y(t)} y2={y(t)} stroke={AX} strokeWidth={1} />
        </g>
      ))}
      {mainXTicks.map((t, i) => (
        <Txt key={`xl${t}`} x={x(t)} y={top + PH + 41.5} size={NUM_SIZE} family={SANS}>{mainXTickLabels[i]}</Txt>
      ))}
      {col === 0 && mainYTicks.map((t, i) => (
        <Txt key={`yl${t}`} x={left - 13} y={y(t) + 10.5} anchor="end" size={NUM_SIZE} family={SANS}>{mainYTickLabels[i]}</Txt>
      ))}
      <MathText x={left + PW / 2} y={top + PH + 73} size={29} subSize={20}
        pieces={[{ t: "z", it: true }, { t: "/", gap: 0.04 }, { t: "δ", it: true, gap: 0.02 }, { t: r.sub, sub: true, it: r.subItalic }]} />
      {col === 0 && (
        <MathText x={25} y={top + PH / 2} vertical size={28} subSize={20}
          pieces={[{ t: "ρ", it: true }, { t: "uu", sub: true, it: true }]} />
      )}

      {/* inset axes */}
      <rect x={il} y={it} width={IW} height={IH} fill="#ffffff" />
      <g clipPath={`url(#${clipIn})`}>
        {insetData.map((vals, i) => (
          <path key={i} d={seriesPath(vals, ix, iy)} fill="none" stroke={seriesColors[i]}
            strokeWidth={3} strokeLinejoin="round" strokeLinecap="round" />
        ))}
      </g>
      <rect x={il} y={it} width={IW} height={IH} fill="none" stroke={AX} strokeWidth={1} />
      {insetXTicks.map((t) => (
        <g key={`ixt${t}`}>
          <line x1={ix(t)} x2={ix(t)} y1={it + IH} y2={it + IH - ITICK} stroke={AX} strokeWidth={1} />
          <line x1={ix(t)} x2={ix(t)} y1={it} y2={it + ITICK} stroke={AX} strokeWidth={1} />
        </g>
      ))}
      {insetYTicks.map((t) => (
        <g key={`iyt${t}`}>
          <line x1={il} x2={il + ITICK} y1={iy(t)} y2={iy(t)} stroke={AX} strokeWidth={1} />
          <line x1={il + IW} x2={il + IW - ITICK} y1={iy(t)} y2={iy(t)} stroke={AX} strokeWidth={1} />
        </g>
      ))}
      {insetXTicks.map((t, i) => insetXTickLabels[i] ? (
        <Txt key={`ixl${t}`} x={ix(t)} y={it + IH + 39} size={NUM_SIZE} family={SANS}>{insetXTickLabels[i]}</Txt>
      ) : null)}
      {insetYTicks.map((t, i) => insetYTickLabels[i] ? (
        <Txt key={`iyl${t}`} x={il - 13} y={iy(t) + 13} anchor="end" size={NUM_SIZE} family={SANS}>{insetYTickLabels[i]}</Txt>
      ) : null)}
      <Txt x={il + IW - 20} y={it + 50} anchor="end" size={27.5} family={SERIF}>{caseNames[col]}</Txt>
    </g>
  );
}

function Legend() {
  const lineLen = 79;
  const starts: number[] = [];
  let s = 97;
  stationLabels.forEach((lab) => {
    starts.push(s);
    const textW = lab.length === 1 ? 67 : 86;
    s += lineLen + 7 + textW + 11;
  });
  return (
    <g>
      <rect x={88.5} y={4.5} width={1079.5} height={42.5} fill="#ffffff" stroke={AX} strokeWidth={1} />
      {stationLabels.map((lab, i) => (
        <g key={lab}>
          <line x1={starts[i]} x2={starts[i] + lineLen} y1={25.5} y2={25.5} stroke={seriesColors[i]} strokeWidth={3.5} />
          <MathText x={starts[i] + lineLen + 7} y={34} anchor="start" size={26} subSize={26}
            pieces={[{ t: "x\u0302", it: true }, { t: "=", gap: 0.35 }, { t: lab, gap: 0.35 }]} />
        </g>
      ))}
    </g>
  );
}

export default function App() {
  return (
    <svg width={W} height={H} viewBox={`0 0 ${W} ${H}`}
      style={{ position: "absolute", left: 0, top: 0, display: "block", background: "#ffffff" }}>
      <rect x={0} y={0} width={W} height={H} fill="#ffffff" />
      {rows.map((_, r) => caseNames.map((_, c) => <Panel key={`${r}-${c}`} row={r} col={c} />))}
      <Legend />
    </svg>
  );
}
